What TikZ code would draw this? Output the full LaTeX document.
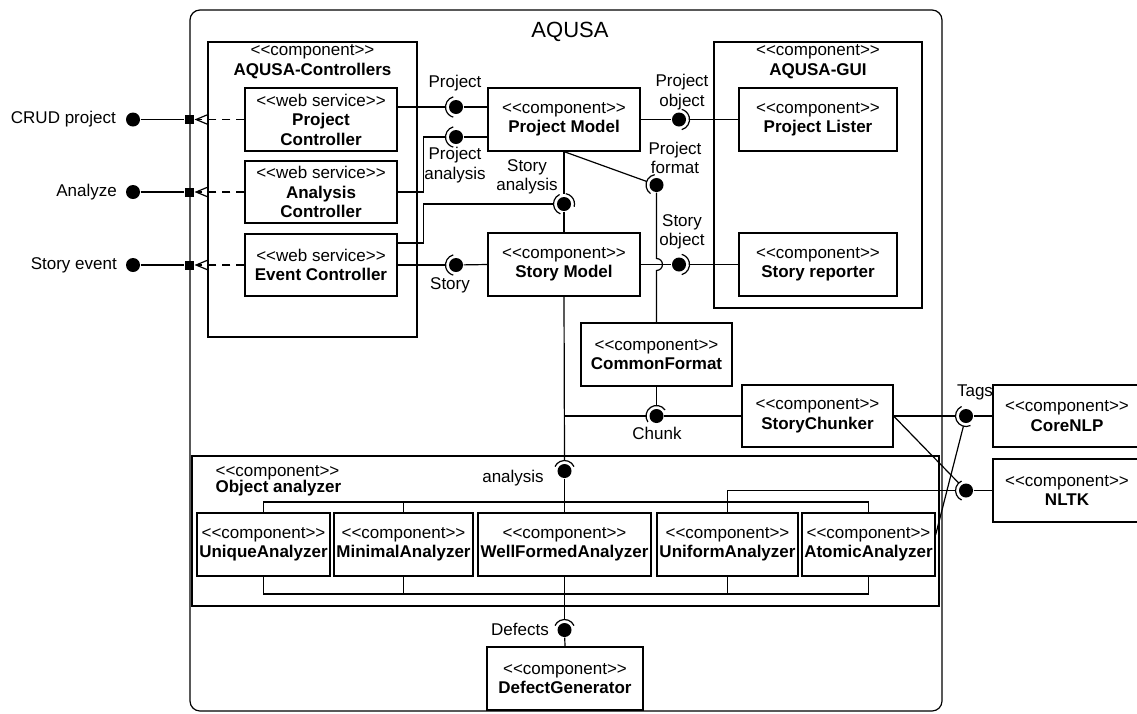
\documentclass[tikz,border=0pt]{standalone}
\usepackage{fontspec}
\setmainfont{Liberation Sans}[Ligatures=TeXOff]
\usetikzlibrary{calc,arrows.meta}
\newcommand\dfont{\fontsize{17}{19.5}\selectfont}
\newcommand\sock[3]{\draw (#1) ++({-(#2)}:10.5) arc[start angle={-(#2)},end angle={-(#3)},radius=10.5];}
\begin{document}
\begin{tikzpicture}[x=1pt,y=-1pt,line width=1.2pt,
  every node/.style={font=\dfont},
  box/.style={draw,line width=1.2pt,inner sep=0pt,align=center},
  ball/.style={circle,fill=black,inner sep=0pt,minimum size=14pt},
  port/.style={rectangle,fill=black,inner sep=0pt,minimum size=9pt},
  lbl/.style={align=center,inner sep=0pt},
  dep/.style={dash pattern=on 8pt off 6pt,-{Straight Barb[length=12pt,width=10pt]}}]
\useasboundingbox (0,0) rectangle (1137,713);

% outer component
\node[box,rounded corners=10pt,minimum width=752pt,minimum height=701pt] (aqusa) at (566,360.5) {};
\node[lbl,font=\fontsize{22}{26}\selectfont] (title) at (570,32) {AQUSA};

% containers
\node[box,minimum width=209pt,minimum height=295pt] (ctrl) at (312.5,189.5) {};
\node[lbl] (ctrlA) at (312.5,52) {<<component>>};
\node[lbl,font=\dfont\bfseries] (ctrlB) at (312.5,71) {AQUSA-Controllers};
\node[box,minimum width=208pt,minimum height=266pt] (gui) at (818,175) {};
\node[lbl] (guiA) at (818,52) {<<component>>};
\node[lbl,font=\dfont\bfseries] (guiB) at (818,71) {AQUSA-GUI};
\node[box,minimum width=747pt,minimum height=150pt] (oa) at (565.5,531) {};
\node[lbl,anchor=west] (oaA) at (215,473) {<<component>>};
\node[lbl,anchor=west,font=\dfont\bfseries] (oaB) at (215,488) {Object analyzer};

% boxes
\node[box,minimum width=152pt,minimum height=63pt] (pc) at (321,119.5) {<<web service>>\\\textbf{Project}\\\textbf{Controller}};
\node[box,minimum width=152pt,minimum height=62pt] (ac) at (321,192) {<<web service>>\\\textbf{Analysis}\\\textbf{Controller}};
\node[box,minimum width=152pt,minimum height=62pt] (ec) at (321,265) {<<web service>>\\\textbf{Event Controller}};
\node[box,minimum width=152pt,minimum height=63pt] (pm) at (564,119.5) {<<component>>\\\textbf{Project Model}};
\node[box,minimum width=152pt,minimum height=63pt] (sm) at (564,264.5) {<<component>>\\\textbf{Story Model}};
\node[box,minimum width=158pt,minimum height=63pt] (pl) at (818,119.5) {<<component>>\\\textbf{Project Lister}};
\node[box,minimum width=158pt,minimum height=63pt] (sr) at (818,264.5) {<<component>>\\\textbf{Story reporter}};
\node[box,minimum width=151pt,minimum height=63pt] (cf) at (656.5,354.5) {<<component>>\\\textbf{CommonFormat}};
\node[box,minimum width=151pt,minimum height=62pt] (sc) at (817.5,416) {<<component>>\\\textbf{StoryChunker}};
\node[box,minimum width=148pt,minimum height=62pt] (cn) at (1067,416) {<<component>>\\\textbf{CoreNLP}};
\node[box,minimum width=148pt,minimum height=63pt] (nl) at (1067,490.5) {<<component>>\\\textbf{NLTK}};
\node[box,minimum width=133pt,minimum height=63pt] (ua) at (263.5,544.5) {<<component>>\\\textbf{UniqueAnalyzer}};
\node[box,minimum width=139pt,minimum height=63pt] (ma) at (403.5,544.5) {<<component>>\\\textbf{MinimalAnalyzer}};
\node[box,minimum width=173pt,minimum height=63pt] (wf) at (564.5,544.5) {<<component>>\\\textbf{WellFormedAnalyzer}};
\node[box,minimum width=141pt,minimum height=63pt] (ufa) at (727.5,544.5) {<<component>>\\\textbf{UniformAnalyzer}};
\node[box,minimum width=133pt,minimum height=63pt] (aa) at (868.5,544.5) {<<component>>\\\textbf{AtomicAnalyzer}};
\node[box,minimum width=156pt,minimum height=63pt] (dg) at (565,678.5) {<<component>>\\\textbf{DefectGenerator}};

% external ports
\node[ball] (eb1) at (133,119.5) {};
\node[ball] (eb2) at (133,192) {};
\node[ball] (eb3) at (133,265) {};
\node[port] (sq1) at (aqusa.west |- pc.west) {};
\node[port] (sq2) at (aqusa.west |- ac.west) {};
\node[port] (sq3) at (aqusa.west |- ec.west) {};
\node[lbl,anchor=east] (l1) at ([xshift=-9pt]eb1.west) {CRUD project};
\node[lbl,anchor=east] (l2) at ([xshift=-8pt]eb2.west) {Analyze};
\node[lbl,anchor=east] (l3) at ([xshift=-8pt]eb3.west) {Story event};
\draw (eb1) -- (sq1);
\draw (eb2) -- (sq2);
\draw (eb3) -- (sq3);
\draw[dep] (pc.west) -- (sq1);
\draw[dep] (ac.west) -- (sq2);
\draw[dep] (ec.west) -- (sq3);

% interface balls
\node[ball] (bP) at (456,107) {};
\node[ball] (bPA) at (456,137) {};
\node[ball] (bSA) at (564,204) {};
\node[ball] (bSt) at (456,265) {};
\node[ball] (bPO) at (679,119.5) {};
\node[ball] (bPF) at (656.5,185) {};
\node[ball] (bSO) at (679,264.5) {};
\node[ball] (bCh) at (656.5,416) {};
\node[ball] (bTg) at (966,416) {};
\node[ball] (bNL) at (966,490.5) {};
\node[ball] (bAn) at (564.5,471) {};
\node[ball] (bDf) at (564.5,630) {};

% sockets
\sock{bP}{105}{255}
\sock{bPA}{105}{255}
\sock{bSA}{115}{250}
\sock{bSA}{-15}{80}
\sock{bSt}{105}{255}
\sock{bPO}{-75}{75}
\sock{bPF}{100}{235}
\sock{bSO}{-75}{75}
\sock{bCh}{35}{215}
\sock{bTg}{115}{295}
\sock{bNL}{115}{245}
\sock{bAn}{25}{155}
\sock{bDf}{25}{155}

% interface labels
\node[lbl] (tP) at (455,83) {Project};
\node[lbl] (tPA) at (455,165) {Project\\analysis};
\node[lbl] (tSA) at (527,177) {Story\\analysis};
\node[lbl] (tSt) at (450,285) {Story};
\node[lbl] (tPO) at (682,92) {Project\\object};
\node[lbl] (tPF) at (675,158) {Project\\format};
\node[lbl] (tSO) at (682,232) {Story\\object};
\node[lbl] (tCh) at (657,433) {Chunk};
\node[lbl] (tTg) at (975,392) {Tags};
\node[lbl] (tAn) at (513,478) {analysis};
\node[lbl] (tDf) at (520,629) {Defects};

% connectors
\draw (pc.east |- bP) -- ($(bP)+(180:10.5)$);
\draw (bP) -- (pm.west |- bP);
\draw (ac.east) -- ++(26,0) |- ($(bPA)+(180:10.5)$);
\draw (bPA) -- (pm.west |- bPA);
\draw ($(ec.east)+(0,-22)$) -- ++(26,0) |- ($(bSA)+(180:10.5)$);
\draw (pm.south) -- ($(bSA)+(-90:10.5)$);
\draw (bSA) -- (sm.north);
\draw (ec.east) -- ($(bSt)+(180:10.5)$);
\draw (bSt) -- (sm.west);
\draw (pm.east) -- (bPO);
\draw ($(bPO)+(0:10.5)$) -- (pl.west);
\draw (pm.south) -- ($(bPF)!10.5pt!(pm.south)$);
\draw (sm.east) -- (bSO);
\draw ($(bSO)+(0:10.5)$) -- (sr.west);
\draw (bPF) -- ($(bPF |- sm.east)+(0,-6)$) arc[start angle=-90,end angle=90,radius=6] -- (cf.north);
\draw (sm.south) -- ($(bAn)+(-90:10.5)$);
\draw (sm.south |- bCh) -- ($(bCh)+(180:10.5)$);
\draw (cf.south) -- ($(bCh)+(-90:10.5)$);
\draw (bCh) -- (sc.west);
\draw (sc.east) -- ($(bTg)+(180:10.5)$);
\draw (bTg) -- (cn.west);
\draw (sc.east) -- ($(bNL)!10.5pt!(sc.east)$);
\draw (bNL) -- (nl.west);
\coordinate (aaT) at ($(aa.east)+(0,-9.5)$);
\draw (aaT) -- ($(bTg)!10.5pt!(aaT)$);
\draw (ufa.north) |- ($(bNL)+(180:10.5)$);

% buses
\coordinate (busT) at (0,502);
\coordinate (busB) at (0,594);
\draw (ua.north) -- (ua.north |- busT) -| (aa.north);
\draw (ma.north) -- (ma.north |- busT);
\draw (bAn) -- (wf.north);
\draw (ua.south) -- (ua.south |- busB) -| (aa.south);
\draw (ma.south) -- (ma.south |- busB);
\draw (ufa.south) -- (ufa.south |- busB);
\draw (wf.south) -- ($(bDf)+(-90:10.5)$);
\draw (bDf) -- (dg.north);
\end{tikzpicture}
\end{document}
